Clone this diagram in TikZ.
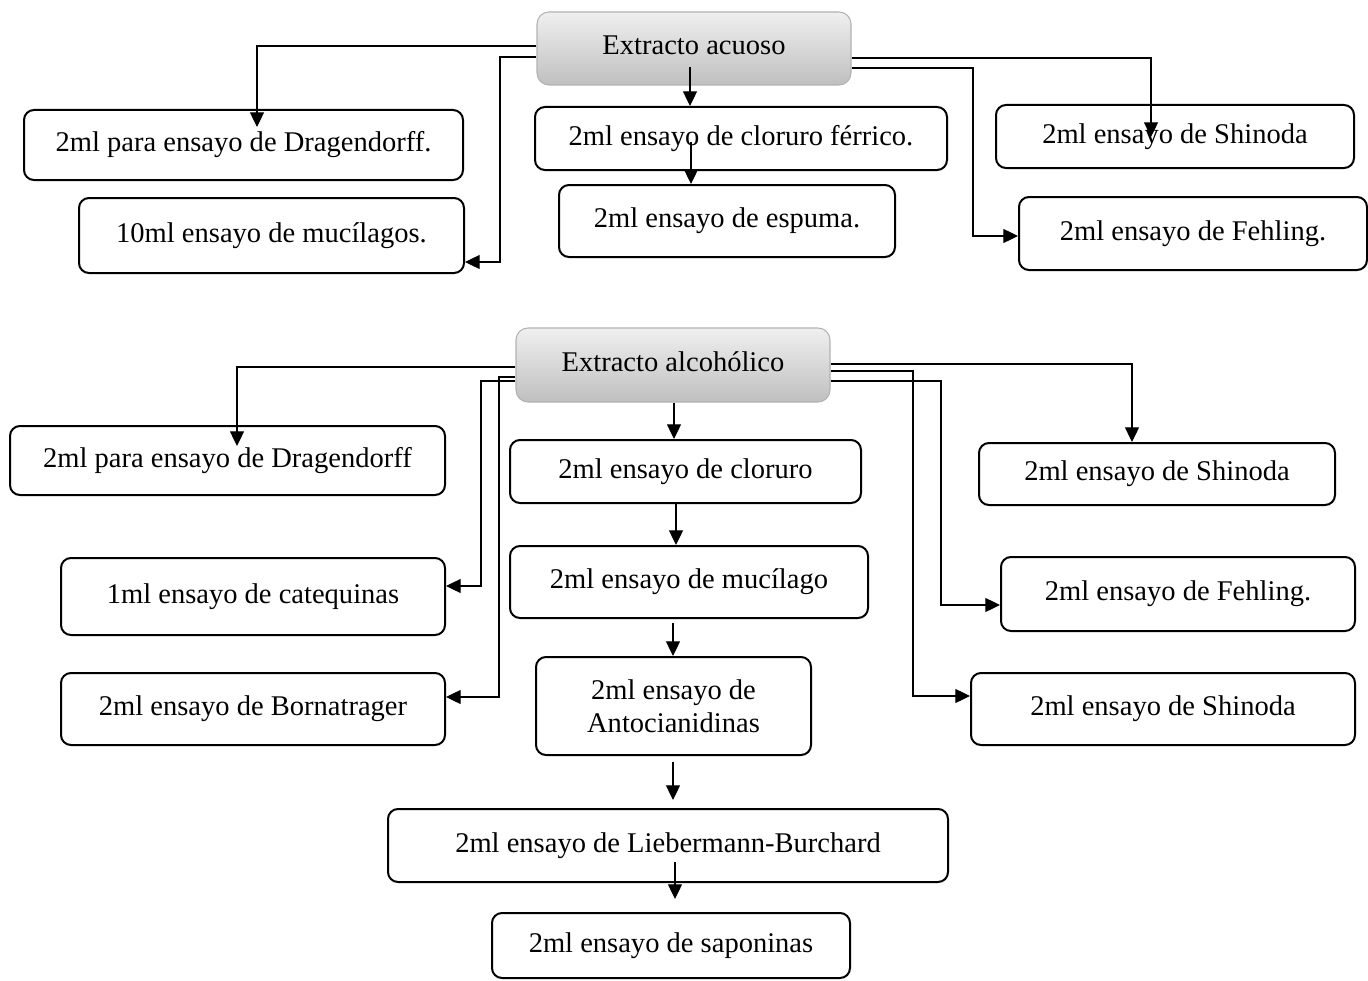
\documentclass[tikz,border=0pt]{standalone}
\usepackage{fontspec}
\setmainfont{Liberation Serif}
\usetikzlibrary{arrows.meta}
\begin{document}
\begin{tikzpicture}[x=0.75pt,y=-0.75pt,
  box/.style={draw=black, line width=1.5pt, rounded corners=7.5pt, inner sep=0pt, align=center,
    font=\fontsize{21.4pt}{24.75pt}\selectfont},
  head/.style={draw=gray!60, line width=0.8pt, rounded corners=9pt, inner sep=0pt, align=center,
    top color=gray!12, bottom color=gray!50,
    font=\fontsize{21.4pt}{24.75pt}\selectfont},
  conn/.style={line width=0.9pt, draw=black, -{Triangle[length=11pt,width=10.5pt]}}]
\useasboundingbox (0,0) rectangle (1368,981);
% ---- top group
\node[head, minimum width=314*0.75pt, minimum height=73*0.75pt] (ea) at (694,48.5) {\raisebox{5pt}{Extracto acuoso}};
\node[box, minimum width=439*0.75pt, minimum height=70*0.75pt] (d1) at (243.5,145) {2ml para ensayo de Dragendorff.};
\node[box, minimum width=385*0.75pt, minimum height=75*0.75pt] (m1) at (271.5,235.5) {\raisebox{3pt}{10ml ensayo de mucílagos.}};
\node[box, minimum width=412*0.75pt, minimum height=63*0.75pt] (c1) at (741,138.5) {2ml ensayo de cloruro férrico.};
\node[box, minimum width=336*0.75pt, minimum height=72*0.75pt] (e1) at (727,221) {2ml ensayo de espuma.};
\node[box, minimum width=358*0.75pt, minimum height=63*0.75pt] (s1) at (1175,136.5) {2ml ensayo de Shinoda};
\node[box, minimum width=348*0.75pt, minimum height=73*0.75pt] (f1) at (1193,233.5) {2ml ensayo de Fehling.};
% ---- bottom group
\node[head, minimum width=314*0.75pt, minimum height=74*0.75pt] (eb) at (673,365) {\raisebox{5pt}{Extracto alcohólico}};
\node[box, minimum width=435*0.75pt, minimum height=69*0.75pt] (d2) at (227.5,460.5) {2ml para ensayo de Dragendorff};
\node[box, minimum width=384*0.75pt, minimum height=77*0.75pt] (cq) at (253,596.5) {1ml ensayo de catequinas};
\node[box, minimum width=384*0.75pt, minimum height=72*0.75pt] (bn) at (253,709) {2ml ensayo de Bornatrager};
\node[box, minimum width=351*0.75pt, minimum height=63*0.75pt] (c2) at (685.5,471.5) {2ml ensayo de cloruro};
\node[box, minimum width=358*0.75pt, minimum height=72*0.75pt] (m2) at (689,582) {\raisebox{2pt}{2ml ensayo de mucílago}};
\node[box, minimum width=275*0.75pt, minimum height=98*0.75pt] (an) at (673.5,706) {2ml ensayo de\\Antocianidinas};
\node[box, minimum width=560*0.75pt, minimum height=73*0.75pt] (lb) at (668,845.5) {2ml ensayo de Liebermann-Burchard};
\node[box, minimum width=358*0.75pt, minimum height=65*0.75pt] (sp) at (671,945.5) {2ml ensayo de saponinas};
\node[box, minimum width=356*0.75pt, minimum height=62*0.75pt] (s2) at (1157,474) {2ml ensayo de Shinoda};
\node[box, minimum width=354*0.75pt, minimum height=74*0.75pt] (f2) at (1178,594) {2ml ensayo de Fehling.};
\node[box, minimum width=384*0.75pt, minimum height=72*0.75pt] (s3) at (1163,709) {2ml ensayo de Shinoda};
% ---- top connectors
\draw[conn] (ea.west |- 0,46) -| (257,127);
\draw[conn] (ea.west |- 0,57) -| (500,262) -- (m1.east |- 0,262);
\draw[conn] (690,67) -- (c1.north -| 690,0);
\draw[conn] (691,142) -- (e1.north -| 691,0);
\draw[conn] (ea.east |- 0,58) -| (1151,137);
\draw[conn] (ea.east |- 0,68) -| (973,236) -- (f1.west |- 0,236);
% ---- bottom connectors
\draw[conn] (eb.west |- 0,367) -| (237,446);
\draw[conn] (eb.west |- 0,381) -| (481,586) -- (cq.east |- 0,586);
\draw[conn] (eb.west |- 0,377) -| (499,697) -- (bn.east |- 0,697);
\draw[conn] (eb.south -| 674,0) -- (c2.north -| 674,0);
\draw[conn] (c2.south -| 676,0) -- (m2.north -| 676,0);
\draw[conn] (673,623) -- (an.north -| 673,0);
\draw[conn] (673,762) -- (673,800);
\draw[conn] (675,862) -- (675,899);
\draw[conn] (eb.east |- 0,364) -| (s2.north -| 1132,0);
\draw[conn] (eb.east |- 0,381) -| (941,605) -- (f2.west |- 0,605);
\draw[conn] (eb.east |- 0,371) -| (913,696) -- (s3.west |- 0,696);
\end{tikzpicture}
\end{document}
